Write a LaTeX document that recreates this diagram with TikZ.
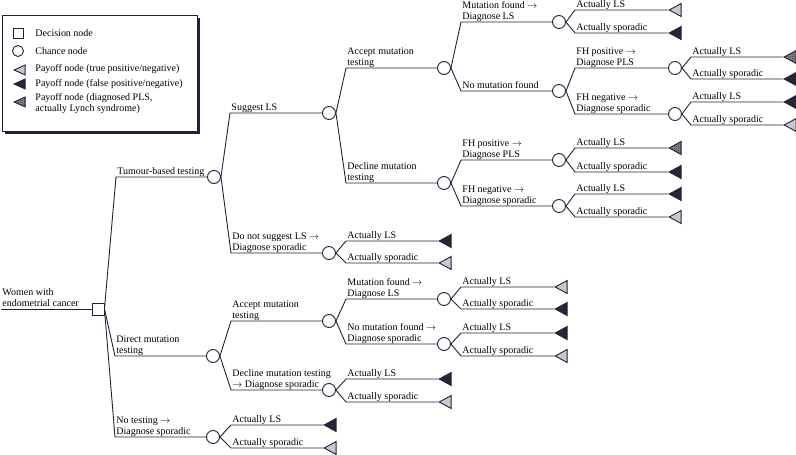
\documentclass[tikz,border=0pt]{standalone}
\usepackage{fontspec}
\setmainfont{Liberation Serif}
\usetikzlibrary{shapes.geometric,patterns}

\definecolor{linec}{RGB}{33,33,58}
\definecolor{paylight}{RGB}{200,200,206}
\definecolor{paydark}{RGB}{38,38,52}

% fine checker for the PLS payoff
\pgfdeclarepatternformonly{finechecker}{\pgfpointorigin}{\pgfqpoint{2pt}{2pt}}{\pgfqpoint{2pt}{2pt}}{%
  \pgfpathrectangle{\pgfpointorigin}{\pgfqpoint{1pt}{1pt}}%
  \pgfpathrectangle{\pgfqpoint{1pt}{1pt}}{\pgfqpoint{1pt}{1pt}}%
  \pgfusepath{fill}}

\tikzset{
  lbl/.style={anchor=south west, inner xsep=1pt, inner ysep=0pt, align=left, font=\fontsize{10}{11}\selectfont},
  key/.style={anchor=base west, inner sep=0pt, align=left, font=\fontsize{10}{11}\selectfont},
  chance/.style={circle, draw=linec, fill=white, minimum size=13pt, inner sep=0pt},
  decision/.style={rectangle, draw=linec, fill=white, minimum size=12pt, inner sep=0pt},
  payoff/.style={isosceles triangle, shape border rotate=180, isosceles triangle stretches,
    minimum width=13pt, minimum height=12pt, inner sep=0pt, draw=linec, anchor=apex},
  payT/.style={payoff, fill=paylight},
  payF/.style={payoff, fill=paydark},
  payP/.style={payoff, fill=paylight!70!black, postaction={pattern=finechecker, pattern color=paydark}},
}

\begin{document}
\begin{tikzpicture}[x=1pt, y=-1pt, line width=0.9pt, color=linec, text=black]

    \useasboundingbox (0,0) rectangle (796,455);

    % Legend
    \fill (4.5,17.5) rectangle (199.5,133.5);
    \filldraw[fill=white, line width=0.7pt] (2,15) rectangle (197,131);
    \node[decision, minimum size=10pt] (kd) at (18,33) {};
    \node[chance, minimum size=11pt] (kc) at (18,51) {};
    \node[payT, minimum width=10pt, minimum height=11pt] (kt) at (13,70) {};
    \node[payF, minimum width=10pt, minimum height=11pt] (kf) at (13,84) {};
    \node[payP, minimum width=10pt, minimum height=11pt] (kp) at (13,102) {};
    \node[key] (kdt) at (35,36.8) {Decision node};
    \node[key] (kct) at (35,54.2) {Chance node};
    \node[key] (ktt) at (35,71.8) {Payoff node (true positive/negative)};
    \node[key] (kft) at (35,86.2) {Payoff node (false positive/negative)};
    \node[key] (kpt) at (35,111.2) {Payoff node (diagnosed PLS,\\actually Lynch syndrome)};

    % Root
    \node[decision] (D0) at (98,309) {};
    \node[lbl, text depth=2.5pt] (root) at (1,309) {Women with\\endometrial cancer};
    \draw (root.south west) -- (D0);

    % Strategies
    \node[lbl] (tb) at (116,177) {Tumour-based testing};
    \node[chance] (C1) at (214,177) {};
    \draw (D0.east) -- (tb.south west) -- (C1);
    \node[lbl] (dm) at (115,356) {Direct mutation\\testing};
    \node[chance] (C2) at (213,356) {};
    \draw (D0.east) -- (dm.south west) -- (C2);
    \node[lbl] (nt) at (115,437) {No testing $\rightarrow$\\Diagnose sporadic};
    \node[chance] (C3) at (213,437) {};
    \draw (D0.east) -- (nt.south west) -- (C3);

    % Tumour-based testing
    \node[lbl] (sg) at (230,113) {Suggest LS};
    \node[chance] (C11) at (329,113) {};
    \draw (C1.east) -- (sg.south west) -- (C11);
    \node[lbl] (ns) at (231,253) {Do not suggest LS $\rightarrow$\\Diagnose sporadic};
    \node[chance] (C12) at (329,253) {};
    \draw (C1.east) -- (ns.south west) -- (C12);

    \node[lbl] (ac) at (346,68) {Accept mutation\\testing};
    \node[chance] (C111) at (444,68) {};
    \draw (C11.east) -- (ac.south west) -- (C111);
    \node[lbl] (dc) at (346,183) {Decline mutation\\testing};
    \node[chance] (C112) at (444,183) {};
    \draw (C11.east) -- (dc.south west) -- (C112);

    \node[lbl] (mf) at (461,22) {Mutation found $\rightarrow$\\Diagnose LS};
    \node[chance] (C1111) at (559,22) {};
    \draw (C111.east) -- (mf.south west) -- (C1111);
    \node[lbl, text depth=2.2pt] (nm) at (461,91) {No mutation found};
    \node[chance] (C1112) at (559,91) {};
    \draw (C111.east) -- (nm.south west) -- (C1112);

    \node[lbl] (fp1) at (575,68) {FH positive $\rightarrow$\\Diagnose PLS};
    \node[chance] (C11121) at (675,68) {};
    \draw (C1112.east) -- (fp1.south west) -- (C11121);
    \node[lbl] (fn1) at (575,114) {FH negative $\rightarrow$\\Diagnose sporadic};
    \node[chance] (C11122) at (675,114) {};
    \draw (C1112.east) -- (fn1.south west) -- (C11122);

    \node[lbl] (fp2) at (461,160) {FH positive $\rightarrow$\\Diagnose PLS};
    \node[chance] (C1121) at (559,160) {};
    \draw (C112.east) -- (fp2.south west) -- (C1121);
    \node[lbl] (fn2) at (461,206) {FH negative $\rightarrow$\\Diagnose sporadic};
    \node[chance] (C1122) at (559,206) {};
    \draw (C112.east) -- (fn2.south west) -- (C1122);

    % Direct mutation testing
    \node[lbl] (ac2) at (231,321) {Accept mutation\\testing};
    \node[chance] (C21) at (329,321) {};
    \draw (C2.east) -- (ac2.south west) -- (C21);
    \node[lbl] (dc2) at (231,390) {Decline mutation testing\\$\rightarrow$ Diagnose sporadic};
    \node[chance] (C22) at (329,390) {};
    \draw (C2.east) -- (dc2.south west) -- (C22);

    \node[lbl] (mf2) at (346,299) {Mutation found $\rightarrow$\\Diagnose LS};
    \node[chance] (C211) at (444,299) {};
    \draw (C21.east) -- (mf2.south west) -- (C211);
    \node[lbl] (nm2) at (346,344) {No mutation found $\rightarrow$\\Diagnose sporadic};
    \node[chance] (C212) at (444,344) {};
    \draw (C21.east) -- (nm2.south west) -- (C212);

    % Payoffs
    \node[lbl] (l1) at (575,10) {Actually LS};
    \node[payT] (p1) at (668,10) {};
    \draw (C1111.east) -- (l1.south west) -- (p1.apex);
    \node[lbl] (l2) at (575,33) {Actually sporadic};
    \node[payF] (p2) at (668,33) {};
    \draw (C1111.east) -- (l2.south west) -- (p2.apex);

    \node[lbl] (l3) at (691,57) {Actually LS};
    \node[payP] (p3) at (783,57) {};
    \draw (C11121.east) -- (l3.south west) -- (p3.apex);
    \node[lbl] (l4) at (691,79) {Actually sporadic};
    \node[payF] (p4) at (783,79) {};
    \draw (C11121.east) -- (l4.south west) -- (p4.apex);

    \node[lbl] (l5) at (691,102) {Actually LS};
    \node[payF] (p5) at (783,102) {};
    \draw (C11122.east) -- (l5.south west) -- (p5.apex);
    \node[lbl] (l6) at (691,125) {Actually sporadic};
    \node[payT] (p6) at (783,125) {};
    \draw (C11122.east) -- (l6.south west) -- (p6.apex);

    \node[lbl] (l7) at (575,148) {Actually LS};
    \node[payP] (p7) at (668,148) {};
    \draw (C1121.east) -- (l7.south west) -- (p7.apex);
    \node[lbl] (l8) at (575,172) {Actually sporadic};
    \node[payF] (p8) at (668,172) {};
    \draw (C1121.east) -- (l8.south west) -- (p8.apex);

    \node[lbl] (l9) at (575,194) {Actually LS};
    \node[payF] (p9) at (668,194) {};
    \draw (C1122.east) -- (l9.south west) -- (p9.apex);
    \node[lbl] (l10) at (575,217) {Actually sporadic};
    \node[payT] (p10) at (668,217) {};
    \draw (C1122.east) -- (l10.south west) -- (p10.apex);

    \node[lbl] (l11) at (346,241) {Actually LS};
    \node[payF] (p11) at (438,241) {};
    \draw (C12.east) -- (l11.south west) -- (p11.apex);
    \node[lbl] (l12) at (346,263) {Actually sporadic};
    \node[payT] (p12) at (438,263) {};
    \draw (C12.east) -- (l12.south west) -- (p12.apex);

    \node[lbl] (l13) at (461,287) {Actually LS};
    \node[payT] (p13) at (554,287) {};
    \draw (C211.east) -- (l13.south west) -- (p13.apex);
    \node[lbl] (l14) at (461,309) {Actually sporadic};
    \node[payF] (p14) at (554,309) {};
    \draw (C211.east) -- (l14.south west) -- (p14.apex);

    \node[lbl] (l15) at (461,333) {Actually LS};
    \node[payF] (p15) at (554,333) {};
    \draw (C212.east) -- (l15.south west) -- (p15.apex);
    \node[lbl] (l16) at (461,356) {Actually sporadic};
    \node[payT] (p16) at (554,356) {};
    \draw (C212.east) -- (l16.south west) -- (p16.apex);

    \node[lbl] (l17) at (346,379) {Actually LS};
    \node[payF] (p17) at (438,379) {};
    \draw (C22.east) -- (l17.south west) -- (p17.apex);
    \node[lbl] (l18) at (346,402) {Actually sporadic};
    \node[payT] (p18) at (438,402) {};
    \draw (C22.east) -- (l18.south west) -- (p18.apex);

    \node[lbl] (l19) at (231,425) {Actually LS};
    \node[payF] (p19) at (323,425) {};
    \draw (C3.east) -- (l19.south west) -- (p19.apex);
    \node[lbl] (l20) at (231,448) {Actually sporadic};
    \node[payT] (p20) at (323,448) {};
    \draw (C3.east) -- (l20.south west) -- (p20.apex);

\end{tikzpicture}
\end{document}
